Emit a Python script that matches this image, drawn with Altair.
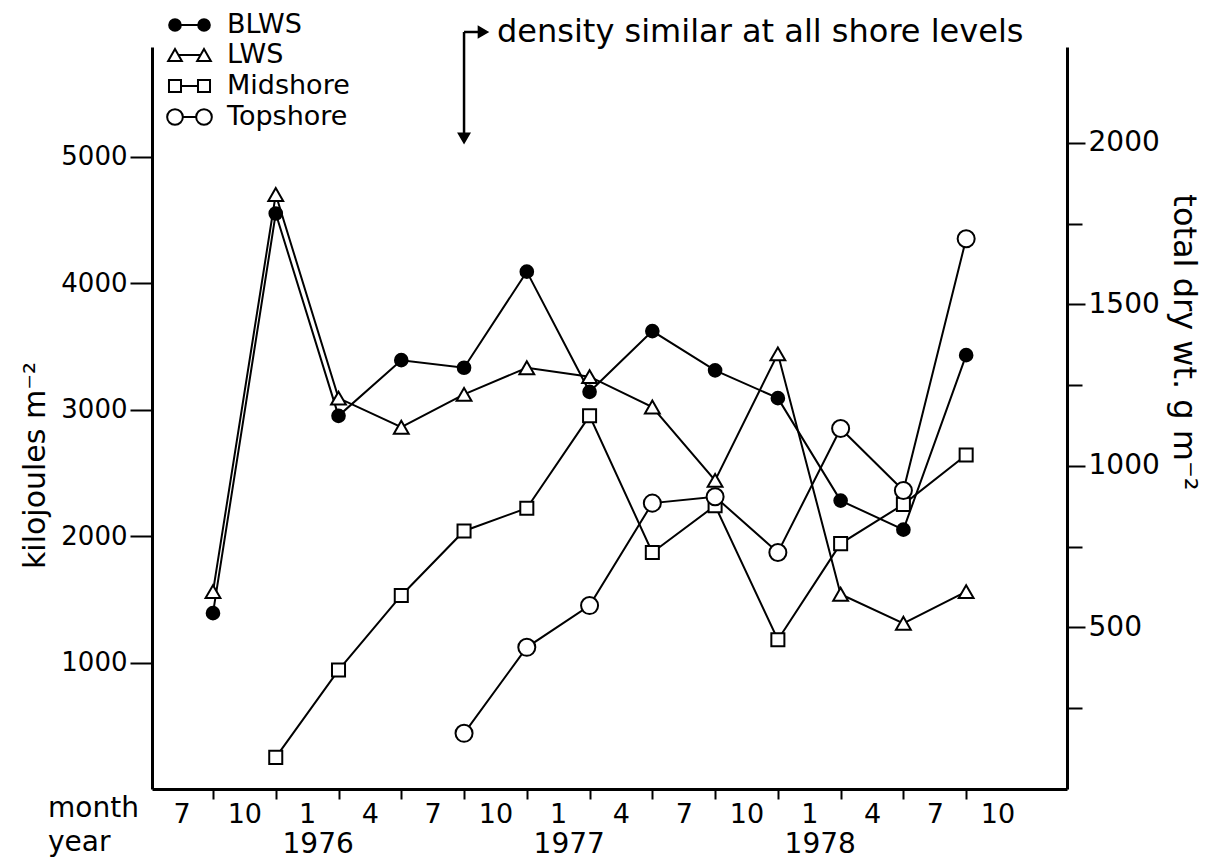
import json
import altair as alt
import pandas as pd

# ---------------- data ----------------
sample_t = [1.5, 4.5, 7.5, 10.5, 13.5, 16.5, 19.5, 22.5, 25.5, 28.5, 31.5, 34.5, 37.5]  # months after Jul 1975

blws = [1390, 4550, 2950, 3390, 3330, 4090, 3140, 3620, 3310, 3090, 2280, 2050, 3430]
lws = [1560, 4700, 3090, 2860, 3120, 3330, 3260, 3020, 2440, 3440, 1540, 1310, 1560]
midshore = [None, 250, 940, 1530, 2040, 2220, 2950, 1870, 2240, 1180, 1940, 2250, 2640]
topshore = [None, None, None, None, 440, 1120, 1450, 2260, 2310, 1870, 2850, 2360, 4350]

series_names = ["BLWS", "LWS", "Midshore", "Topshore"]
series_values = [blws, lws, midshore, topshore]

label_t = [0, 3, 6, 9, 12, 15, 18, 21, 24, 27, 30, 33, 36, 39]
month_labels = ["7", "10", "1", "4", "7", "10", "1", "4", "7", "10", "1", "4", "7", "10"]
year_t = [6, 18, 30]
year_labels = ["1976", "1977", "1978"]

left_ticks = [1000, 2000, 3000, 4000, 5000]
right_ticks = [250, 500, 750, 1000, 1250, 1500, 1750, 2000]

arrow_t = [13.5]
note_text = "density similar at all shore levels"

# ---------------- styling ----------------
FONT = "DejaVu Sans"
FS = 28
W, H = 915, 742
X_DOM = [-1.415, 42.32]
YL_DOM = [0, 5866]
YR_DOM = [0, 2297]

styles = {
    "BLWS": dict(shape="circle", fill="black", size=160),
    "LWS": dict(shape="triangle-up", fill="white", size=220),
    "Midshore": dict(shape="square", fill="white", size=170),
    "Topshore": dict(shape="circle", fill="white", size=290),
}

xscale = alt.Scale(domain=X_DOM, nice=False, zero=False)
xaxis = alt.Axis(
    values=label_t,
    labelExpr=f"{json.dumps(month_labels)}[round(datum.value/3)]",
    tickOffset=31.4,
    labelOffset=-31.4,
    tickSize=10,
    tickWidth=2,
    tickColor="black",
    tickOpacity={"condition": {"test": "datum.value > 38", "value": 0}, "value": 1},
    domainWidth=3,
    domainColor="black",
    labelFont=FONT,
    labelFontSize=27,
    labelColor="black",
    labelPadding=2,
    labelFlush=False,
    labelOverlap=False,
    grid=False,
    title="",
)
X = alt.X("t:Q", scale=xscale, axis=xaxis)

yaxis = alt.Axis(
    values=left_ticks,
    format="d",
    tickSize=22,
    tickWidth=2,
    tickColor="black",
    domainWidth=3,
    domainColor="black",
    labelFont=FONT,
    labelFontSize=26,
    labelColor="black",
    labelPadding=3,
    grid=False,
    title="kilojoules  m⁻²",
    titleFont=FONT,
    titleFontSize=30,
    titleFontWeight="normal",
    titleColor="black",
    titleX=-117,
    titleY=418,
    titleAngle=270,
    titleAlign="center",
    titleBaseline="middle",
)
Y = alt.Y("v:Q", scale=alt.Scale(domain=YL_DOM, nice=False, zero=True), axis=yaxis)

rows = []
for name, vals in zip(series_names, series_values):
    for t, v in zip(sample_t, vals):
        if v is not None:
            rows.append({"series": name, "t": t, "v": v})
df = pd.DataFrame(rows)

line_layers = []
point_layers = []
for name in series_names:
    d = df[df["series"] == name]
    st = styles[name]
    line_layers.append(
        alt.Chart(d).mark_line(color="black", strokeWidth=2).encode(x=X, y=Y)
    )
    point_layers.append(
        alt.Chart(d)
        .mark_point(shape=st["shape"], filled=True, fill=st["fill"], stroke="black",
                    strokeWidth=2, size=st["size"], opacity=1)
        .encode(x=X, y=Y)
    )

# ---------------- legend (top left) ----------------
legend_y = [-22, 8, 39, 70]
legend_layers = []
one = pd.DataFrame({"a": [0]})
for name, ly in zip(series_names, legend_y):
    st = styles[name]
    legend_layers.append(
        alt.Chart(one).mark_rule(color="black", strokeWidth=2)
        .encode(x=alt.value(23), x2=alt.value(52), y=alt.value(ly))
    )
    for lx in (23, 52):
        legend_layers.append(
            alt.Chart(one)
            .mark_point(shape=st["shape"], filled=True, fill=st["fill"], stroke="black",
                        strokeWidth=2, size=st["size"] * 0.85, opacity=1)
            .encode(x=alt.value(lx), y=alt.value(ly))
        )
    legend_layers.append(
        alt.Chart(one).mark_text(text=name, align="left", baseline="middle", font=FONT,
                                 fontSize=27, color="black")
        .encode(x=alt.value(75), y=alt.value(ly))
    )

# ---------------- annotation arrow ----------------
arrow_df = pd.DataFrame({"t": arrow_t})
ann_y = -15
annotation = [
    alt.Chart(arrow_df).mark_rule(color="black", strokeWidth=2.5)
    .encode(x=X, y=alt.value(ann_y), y2=alt.value(88)),
    alt.Chart(arrow_df).mark_point(shape="triangle-down", filled=True, fill="black",
                                   stroke="black", size=110, opacity=1)
    .encode(x=X, y=alt.value(91)),
    alt.Chart(arrow_df).mark_rule(color="black", strokeWidth=2.5)
    .encode(x=X, x2=alt.value(328), y=alt.value(ann_y)),
    alt.Chart(arrow_df).mark_point(shape="triangle-right", filled=True, fill="black",
                                   stroke="black", size=100, opacity=1)
    .encode(x=alt.value(331), y=alt.value(ann_y)),
    alt.Chart(one).mark_text(text=note_text, align="left", baseline="middle", font=FONT,
                             fontSize=32, color="black")
    .encode(x=alt.value(345), y=alt.value(ann_y)),
]

# ---------------- x-axis extra text ----------------
year_df = pd.DataFrame({"t": year_t, "label": year_labels})
extra_text = [
    alt.Chart(year_df).mark_text(align="center", baseline="middle", font=FONT,
                                 fontSize=FS, color="black", dx=11)
    .encode(x=X, y=alt.value(H + 56), text="label:N"),
    alt.Chart(one).mark_text(text="month", align="left", baseline="middle", font=FONT,
                             fontSize=FS, color="black")
    .encode(x=alt.value(-104), y=alt.value(H + 20)),
    alt.Chart(one).mark_text(text="year", align="left", baseline="middle", font=FONT,
                             fontSize=FS, color="black")
    .encode(x=alt.value(-104), y=alt.value(H + 54)),
]

left = alt.layer(*line_layers, *point_layers, *legend_layers, *annotation, *extra_text)

# ---------------- right axis ----------------
right_axis = alt.Axis(
    orient="right",
    values=right_ticks,
    format="d",
    labelExpr="datum.value % 500 == 0 ? datum.label : ''",
    tickSize={"condition": {"test": "datum.value % 500 == 0", "value": 18}, "value": 15},
    tickWidth=2,
    tickColor="black",
    domainWidth=3,
    domainColor="black",
    labelFont=FONT,
    labelFontSize=FS,
    labelColor="black",
    labelPadding=3,
    grid=False,
    title="total  dry  wt.  g  m⁻²",
    titleFont=FONT,
    titleFontSize=32,
    titleFontWeight="normal",
    titleColor="black",
    titleX=116,
    titleY=295,
    titleAngle=90,
    titleAlign="center",
    titleBaseline="middle",
)
right = alt.Chart(pd.DataFrame({"w": right_ticks})).mark_point(opacity=0).encode(
    y=alt.Y("w:Q", scale=alt.Scale(domain=YR_DOM, nice=False, zero=True), axis=right_axis)
)

chart = (
    alt.layer(left, right)
    .resolve_scale(y="independent")
    .properties(
        width=W,
        height=H,
        autosize=alt.AutoSizeParams(type="none"),
        padding={"left": 144, "top": 39, "right": 150, "bottom": 70},
        background="white",
    )
    .configure_view(strokeOpacity=0)
)

chart.save("out.html", embed_options={"renderer": "svg", "actions": False})
